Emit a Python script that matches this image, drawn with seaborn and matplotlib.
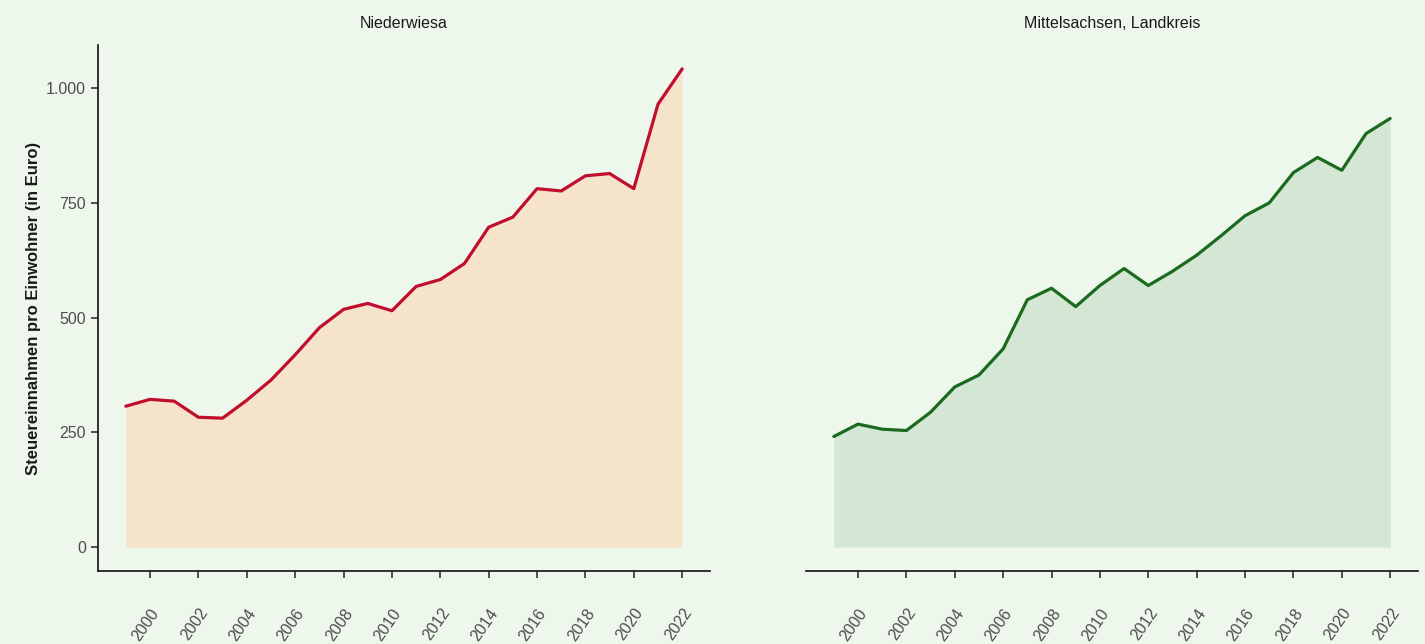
import numpy as np
import pandas as pd
import seaborn as sns
import matplotlib.pyplot as plt

years = list(range(1999, 2023))
niederwiesa = [307, 322, 318, 283, 281, 320, 364, 419, 478, 518, 531, 515,
               568, 583, 618, 697, 719, 781, 776, 809, 814, 781, 965, 1042]
mittelsachsen = [241, 268, 257, 254, 294, 349, 375, 432, 539, 564, 524, 570,
                 607, 570, 601, 636, 678, 722, 750, 816, 849, 821, 901, 934]
titles = ["Niederwiesa", "Mittelsachsen, Landkreis"]
ylabel = "Steuereinnahmen pro Einwohner (in Euro)"

bg = "#EEF7EC"
line_colors = ["#C20E2E", "#1B6B1F"]
fill_colors = ["#F5E3CC", "#D4E6D4"]

sns.set_theme(style="ticks", rc={"figure.facecolor": bg, "axes.facecolor": bg,
                                 "savefig.facecolor": bg})
plt.rcParams["font.family"] = ["Liberation Sans", "DejaVu Sans"]

df = pd.DataFrame({"Jahr": years * 2,
                   "Wert": niederwiesa + mittelsachsen,
                   "Gebiet": [titles[0]] * len(years) + [titles[1]] * len(years)})

fig = plt.figure(figsize=(14.25, 6.44), dpi=100)
ax1 = fig.add_axes([98 / 1425, 1 - 571 / 644, 612 / 1425, 526 / 644])
ax2 = fig.add_axes([806 / 1425, 1 - 571 / 644, 612 / 1425, 526 / 644])

for i, ax in enumerate([ax1, ax2]):
    sub = df[df["Gebiet"] == titles[i]]
    ax.fill_between(sub["Jahr"], 0, sub["Wert"], color=fill_colors[i], lw=0)
    sns.lineplot(data=sub, x="Jahr", y="Wert", ax=ax, color=line_colors[i], lw=2.3)
    ax.set_xlim(1997.85, 2023.15)
    ax.set_ylim(-52, 1094)
    ax.set_xticks(range(2000, 2023, 2))
    ax.set_xticklabels([str(y) for y in range(2000, 2023, 2)], rotation=55,
                       ha="right", rotation_mode="anchor")
    ax.tick_params(axis="x", pad=20, labelsize=11.5, labelcolor="#4D4D4D",
                   length=5, width=1.2, color="#333333")
    ax.set_title(titles[i], fontsize=11.5, color="#1A1A1A", pad=12)
    ax.set_xlabel("")
    sns.despine(ax=ax)
    ax.spines["bottom"].set_color("#1A1A1A")
    ax.spines["left"].set_color("#1A1A1A")

ax1.set_yticks([0, 250, 500, 750, 1000])
ax1.set_yticklabels(["0", "250", "500", "750", "1.000"])
ax1.tick_params(axis="y", labelsize=11.5, labelcolor="#4D4D4D",
                length=5, width=1.2, color="#333333")
ax1.set_ylabel(ylabel, fontsize=12, fontweight="bold", color="#1A1A1A")

ax2.set_ylabel("")
ax2.set_yticks([])
ax2.spines["left"].set_visible(False)

fig.savefig("out.png", dpi=100)
